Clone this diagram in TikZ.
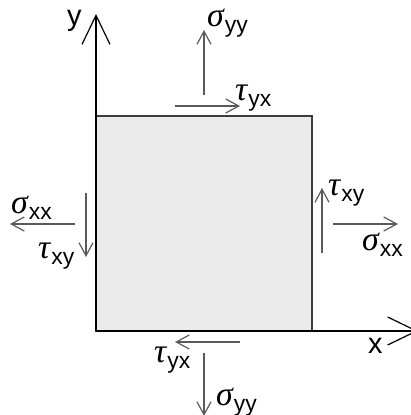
\documentclass[tikz,border=0pt]{standalone}
\usepackage{fontspec}
\setmainfont{Liberation Sans}
\newfontfamily\griech{Liberation Serif}
\usetikzlibrary{arrows.meta}
\definecolor{kraftgrau}{HTML}{5A5A5A}
\definecolor{flaeche}{HTML}{EBEBEB}
\definecolor{rand}{HTML}{3C3C3C}
% Spannung: griechischer Buchstabe mit tiefgestelltem Index
\newcommand{\spg}[2]{{\griech\itshape\fontsize{34}{36}\selectfont #1}\kern1bp\raisebox{-6bp}{\fontsize{23}{24}\selectfont #2}}

\begin{document}
\begin{tikzpicture}[x=1bp,y=1bp,
  kraft/.style={kraftgrau,line width=1.2bp,-{Straight Barb[length=13bp,width=14bp]}},
  achse/.style={black,line width=1.2bp,-{Straight Barb[length=29bp,width=28bp]}},
  lbl/.style={anchor=base west,inner sep=0pt,font=\fontsize{28}{30}\selectfont}]
  \useasboundingbox (0,0) rectangle (411,415);
  % Element
  \fill[flaeche] (96,84) rectangle (312,299);
  \draw[rand,line width=1.5bp] (96,84) rectangle (312,299);
  % Achsen
  \coordinate (O) at (96,84);
  \coordinate (yend) at (96,401);
  \coordinate (xend) at (418,84);
  \draw[achse] (O) -- (yend);
  \draw[achse] (O) -- (xend);
  \node[lbl,font=\fontsize{29}{30}\selectfont] (ylab) at (67,389) {y};
  \node[lbl,font=\fontsize{29}{30}\selectfont] (xlab) at (368,62) {x};
  % Spannungen oben
  \coordinate (syyTa) at (204,320); \coordinate (syyTb) at (204,385);
  \coordinate (tyxTa) at (175,309); \coordinate (tyxTb) at (240,309);
  \draw[kraft] (syyTa) -- (syyTb);
  \draw[kraft] (tyxTa) -- (tyxTb);
  \node[lbl] (syyT) at (207,388) {\spg{σ}{yy}};
  \node[lbl] (tyxT) at (235,315) {\spg{τ}{yx}};
  % Spannungen links
  \coordinate (sxxLa) at (75,191); \coordinate (sxxLb) at (10,191);
  \coordinate (txyLa) at (86,222); \coordinate (txyLb) at (86,158);
  \draw[kraft] (sxxLa) -- (sxxLb);
  \draw[kraft] (txyLa) -- (txyLb);
  \node[lbl] (sxxL) at (11,202) {\spg{σ}{xx}};
  \node[lbl] (txyL) at (38,157) {\spg{τ}{xy}};
  % Spannungen rechts
  \coordinate (txyRa) at (322,162); \coordinate (txyRb) at (322,227);
  \coordinate (sxxRa) at (333,191); \coordinate (sxxRb) at (398,191);
  \draw[kraft] (txyRa) -- (txyRb);
  \draw[kraft] (sxxRa) -- (sxxRb);
  \node[lbl] (txyR) at (328,220) {\spg{τ}{xy}};
  \node[lbl] (sxxR) at (362,165) {\spg{σ}{xx}};
  % Spannungen unten
  \coordinate (tyxBa) at (240,73); \coordinate (tyxBb) at (175,73);
  \coordinate (syyBa) at (204,62); \coordinate (syyBb) at (204,-1);
  \draw[kraft] (tyxBa) -- (tyxBb);
  \draw[kraft] (syyBa) -- (syyBb);
  \node[lbl] (tyxB) at (154,53) {\spg{τ}{yx}};
  \node[lbl] (syyB) at (216,10) {\spg{σ}{yy}};
\end{tikzpicture}
\end{document}
